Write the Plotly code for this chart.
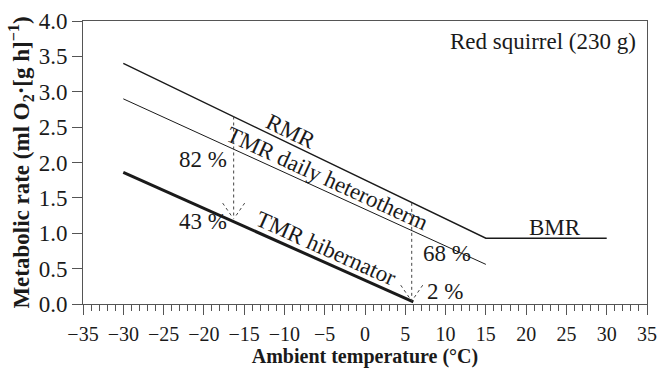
import math
import plotly.graph_objects as go

# ---- data ----
rmr_x = [-30, 15, 30]
rmr_y = [3.40, 0.93, 0.93]
daily_x = [-30, 15]
daily_y = [2.90, 0.56]
hib_x = [-30, 6]
hib_y = [1.86, 0.03]
arrow_x = [-16.3, 5.8]
arrow_top = [2.65, 1.43]
arrow_tip = [1.20, 0.04]
pct_labels = ["82 %", "43 %", "68 %", "2 %"]
pct_x = [-20.1, -20.1, 10.2, 9.9]
pct_y = [2.04, 1.16, 0.72, 0.18]
x_ticks = list(range(-35, 40, 5))
y_ticks = [0.0, 0.5, 1.0, 1.5, 2.0, 2.5, 3.0, 3.5, 4.0]

# ---- layout geometry ----
W_FIG, H_FIG = 666, 368
ML, MR, MT, MB = 83, 19, 21, 64
PW = W_FIG - ML - MR
PH = H_FIG - MT - MB
XR = [-35, 35]
YR = [0, 4]
pxx = PW / (XR[1] - XR[0])
pxy = PH / (YR[1] - YR[0])

def angle(xs, ys):
    s = (ys[1] - ys[0]) / (xs[1] - xs[0])
    return math.degrees(math.atan(-s * pxy / pxx))

FONT = "Liberation Serif, Times New Roman, serif"
INK = "#1a1a1a"

fig = go.Figure()
fig.add_trace(go.Scatter(x=rmr_x, y=rmr_y, mode="lines",
                         line=dict(color=INK, width=1.4), hoverinfo="skip"))
fig.add_trace(go.Scatter(x=daily_x, y=daily_y, mode="lines",
                         line=dict(color=INK, width=1.0), hoverinfo="skip"))
fig.add_trace(go.Scatter(x=hib_x, y=hib_y, mode="lines",
                         line=dict(color=INK, width=3.0), hoverinfo="skip"))

shapes = []
for ax_, top, tip in zip(arrow_x, arrow_top, arrow_tip):
    shapes.append(dict(type="line", x0=ax_, x1=ax_, y0=top, y1=tip,
                       xref="x", yref="y",
                       line=dict(color="#444", width=1, dash="3px,3px")))
    for side in (-1, 1):
        shapes.append(dict(type="line",
                           x0=ax_ + side * 11 / pxx, y0=tip + 16 / pxy,
                           x1=ax_ + side * 1 / pxx, y1=tip + 1.5 / pxy,
                           xref="x", yref="y",
                           line=dict(color="#444", width=1, dash="3px,3px")))

ann = []
ann.append(dict(x=-9.2, y=2.44, text="RMR", textangle=angle(rmr_x[:2], rmr_y[:2])))
ann.append(dict(x=-4.7, y=1.77, text="TMR daily heterotherm", textangle=angle(daily_x, daily_y)))
ann.append(dict(x=-4.8, y=0.79, text="TMR hibernator", textangle=angle(hib_x, hib_y)))
ann.append(dict(x=23.6, y=1.08, text="BMR", textangle=0))
for t, x, y in zip(pct_labels, pct_x, pct_y):
    ann.append(dict(x=x, y=y, text=t, textangle=0))
for a in ann:
    a.update(xref="x", yref="y", showarrow=False, xanchor="center", yanchor="middle",
             font=dict(family=FONT, size=23, color=INK))
ann.append(dict(x=0.984, y=0.929, xref="paper", yref="paper", xanchor="right", yanchor="middle",
                text="Red squirrel (230 g)", showarrow=False,
                font=dict(family=FONT, size=23, color=INK)))

fig.update_layout(
    width=W_FIG, height=H_FIG,
    margin=dict(l=ML, r=MR, t=MT, b=MB, pad=0),
    paper_bgcolor="white", plot_bgcolor="white",
    showlegend=False,
    shapes=shapes, annotations=ann,
    font=dict(family=FONT, color=INK),
)
fig.update_xaxes(
    range=XR, tickvals=x_ticks, ticks="outside", ticklen=10, tickwidth=1,
    tickcolor="#555", showline=True, linecolor="#555", linewidth=1, mirror=True,
    showgrid=False, zeroline=False, automargin=False,
    minor=dict(dtick=1, ticks="outside", ticklen=6, tickwidth=1, tickcolor="#555", showgrid=False),
    tickfont=dict(family=FONT, size=20, color=INK),
    ticklabelstandoff=2,
    title=dict(text="<b>Ambient temperature (°C)</b>", font=dict(family=FONT, size=20, color=INK), standoff=12),
)
fig.update_yaxes(
    range=YR, tickvals=y_ticks, tickformat=".1f", ticks="outside", ticklen=10, tickwidth=1,
    tickcolor="#555", showline=True, linecolor="#555", linewidth=1, mirror=True,
    showgrid=False, zeroline=False, automargin=False,
    tickfont=dict(family=FONT, size=23, color=INK),
    title=dict(text="<b>Metabolic rate (ml O<sub>2</sub>·[g h]<sup>−1</sup>)</b>",
               font=dict(family=FONT, size=23, color=INK), standoff=2),
)

fig.write_html("out.html")
